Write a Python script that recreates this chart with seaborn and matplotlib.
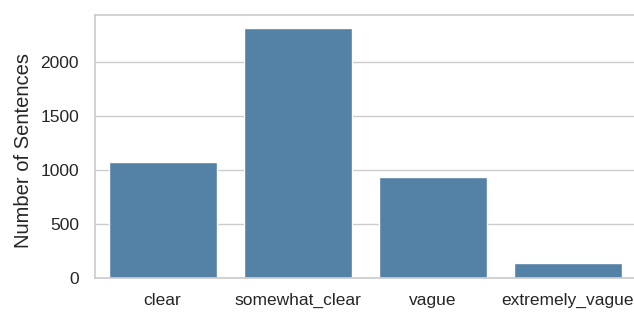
import pandas as pd
import matplotlib.pyplot as plt
import seaborn as sns

# sentence counts per vagueness class
categories = ['clear', 'somewhat_clear', 'vague', 'extremely_vague']
counts = [1078, 2322, 940, 140]

sns.set_theme(style='whitegrid', rc={'xtick.major.pad': 4.5, 'ytick.major.pad': 5.5})
plt.rcParams['font.family'] = ['Liberation Sans', 'DejaVu Sans']

df = pd.DataFrame({'clarity': categories, 'count': counts})

fig = plt.figure(figsize=(6.34, 3.12), dpi=100)
ax = fig.add_axes([95 / 634, 34 / 312, 540.5 / 634, 263 / 312])
sns.barplot(data=df, x='clarity', y='count', color='steelblue', ax=ax)
ax.set_xlabel('')
ax.set_ylabel('Number of Sentences', fontsize=14.5)
ax.yaxis.set_label_coords(-0.115, 0.485)
ax.set_yticks([0, 500, 1000, 1500, 2000])
ax.tick_params(labelsize=12.5)

fig.savefig('out.png', dpi=100)
